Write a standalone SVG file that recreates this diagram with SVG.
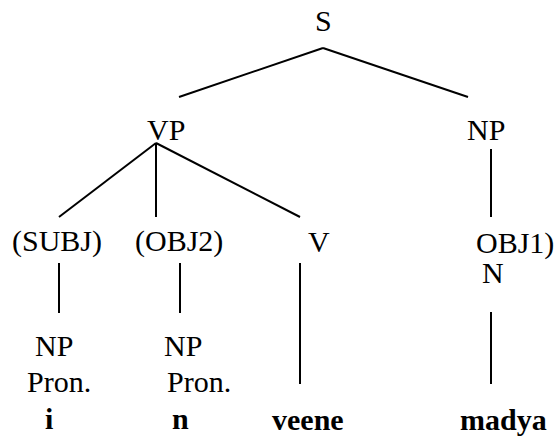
<svg xmlns="http://www.w3.org/2000/svg" width="559" height="437" viewBox="0 0 559 437">
<rect width="559" height="437" fill="#fff"/>
<g id="connectors" stroke="#000" stroke-width="2">
<line x1="323" y1="48" x2="179" y2="97"/>
<line x1="323" y1="48" x2="468" y2="97"/>
<line x1="156" y1="143" x2="59" y2="217"/>
<line x1="156" y1="143" x2="156" y2="217"/>
<line x1="156" y1="143" x2="300" y2="217"/>
<line x1="491" y1="149" x2="491" y2="217"/>
<line x1="59" y1="263" x2="59" y2="313"/>
<line x1="180" y1="263" x2="180" y2="313"/>
<line x1="300" y1="263" x2="300" y2="384"/>
<line x1="491" y1="312" x2="491" y2="384"/>
</g>
<g id="S"><text x="315" y="31" font-family="Liberation Serif" font-size="30">S</text></g>
<g id="VP"><text x="147" y="140" font-family="Liberation Serif" font-size="30">VP</text></g>
<g id="NP-top"><text x="467" y="140" font-family="Liberation Serif" font-size="30">NP</text></g>
<g id="SUBJ"><text x="12" y="251" font-family="Liberation Serif" font-size="30">(SUBJ)</text></g>
<g id="OBJ2"><text x="135" y="251" font-family="Liberation Serif" font-size="30">(OBJ2)</text></g>
<g id="V"><text x="308" y="252" font-family="Liberation Serif" font-size="30">V</text></g>
<g id="OBJ1"><text x="476" y="253" font-family="Liberation Serif" font-size="30">OBJ1)</text><text x="482" y="283" font-family="Liberation Serif" font-size="30">N</text></g>
<g id="NP-i"><text x="35" y="356" font-family="Liberation Serif" font-size="30">NP</text><text x="27" y="392" font-family="Liberation Serif" font-size="30">Pron.</text><text x="45" y="429" font-family="Liberation Serif" font-size="30" font-weight="bold">i</text></g>
<g id="NP-n"><text x="164" y="356" font-family="Liberation Serif" font-size="30">NP</text><text x="167" y="392" font-family="Liberation Serif" font-size="30">Pron.</text><text x="172" y="429" font-family="Liberation Serif" font-size="30" font-weight="bold">n</text></g>
<g id="veene"><text x="272" y="430" font-family="Liberation Serif" font-size="30" font-weight="bold">veene</text></g>
<g id="madya"><text x="460" y="430" font-family="Liberation Serif" font-size="30" font-weight="bold">madya</text></g>
</svg>
